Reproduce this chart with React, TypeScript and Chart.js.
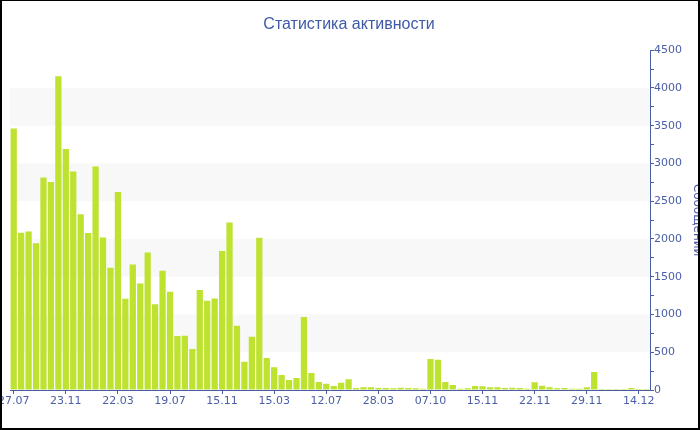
import React, { useEffect, useRef } from 'react';
import { Chart, registerables } from 'chart.js';

Chart.register(...registerables);

// ---- data ----
const tickLabels = ['27.07', '23.11', '22.03', '19.07', '15.11', '15.03', '12.07', '28.03', '07.10', '15.11', '22.11', '29.11', '14.12'];
const labelEvery = 7;
const messages = [
  3463, 2082, 2100, 1945, 2815, 2753, 4156, 3190, 2894, 2329,
  2078, 2960, 2020, 1619, 2621, 1209, 1663, 1412, 1822, 1134,
  1579, 1301, 715, 719, 543, 1324, 1182, 1213, 1840, 2219,
  851, 375, 706, 2016, 424, 300, 199, 132, 159, 966,
  225, 106, 84, 53, 97, 141, 26, 35, 35, 26,
  26, 22, 31, 26, 22, 18, 410, 401, 106, 66,
  18, 22, 53, 49, 35, 35, 26, 31, 26, 18,
  101, 57, 35, 22, 26, 18, 18, 35, 238, 13,
  9, 9, 13, 26, 9, 9,
];
const yMax = 4500;
const yStep = 250;
const yLabelStep = 500;
const bandRanges = [[500, 1000], [1500, 2000], [2500, 3000], [3500, 4000]];

const categories = messages.map((_, i) => (i % labelEvery === 0 ? tickLabels[i / labelEvery] ?? '' : ''));

const textColor = '#4a5ea6';
const axisColor = '#4a5ea6';
const barColor = '#bde22f';

const bandsPlugin = {
  id: 'bands',
  beforeDatasetsDraw(chart: any) {
    const { ctx, chartArea, scales } = chart;
    const y = scales.y;
    ctx.save();
    ctx.fillStyle = '#f8f8f8';
    for (const [a, b] of bandRanges) {
      const y1 = y.getPixelForValue(b);
      const y2 = y.getPixelForValue(a);
      ctx.fillRect(chartArea.left, y1, chartArea.right - chartArea.left, y2 - y1);
    }
    ctx.restore();
  },
};

export default function App() {
  const ref = useRef<HTMLCanvasElement | null>(null);

  useEffect(() => {
    if (!ref.current) return;
    const chart = new Chart(ref.current, {
      type: 'bar',
      data: {
        labels: categories,
        datasets: [
          {
            label: 'Сообщений',
            data: messages,
            backgroundColor: barColor,
            borderWidth: 0,
            minBarLength: 1,
            categoryPercentage: 1,
            barPercentage: 0.84,
          },
        ],
      },
      plugins: [bandsPlugin],
      options: {
        responsive: false,
        animation: false,
        devicePixelRatio: 1,
        layout: { padding: { left: 30, right: 32, top: 0, bottom: 0 } },
        plugins: {
          legend: { display: false },
          tooltip: { enabled: false },
          title: {
            display: true,
            text: 'Статистика активности',
            color: '#3f5aa6',
            font: { family: 'Liberation Sans', size: 16, weight: 'normal' },
            padding: { top: 15, bottom: 16 },
          },
        },
        scales: {
          x: {
            type: 'category',
            offset: true,
            grid: { offset: false, drawOnChartArea: false, drawTicks: true, tickLength: 4, color: axisColor },
            border: { display: true, color: axisColor },
            ticks: {
              autoSkip: false,
              maxRotation: 0,
              minRotation: 0,
              padding: 1,
              color: textColor,
              font: { family: 'DejaVu Sans', size: 11 },
            },
            afterBuildTicks: (s: any) => {
              s.ticks = s.ticks.filter((t: any) => t.value % labelEvery === 0);
            },
            afterFit: (s: any) => {
              s.height = 40;
            },
          },
          y: {
            position: 'right',
            min: 0,
            max: yMax,
            ticks: {
              stepSize: yStep,
              autoSkip: false,
              padding: 0,
              color: textColor,
              font: { family: 'DejaVu Sans', size: 11 },
              callback: (v: any) => (Number(v) % yLabelStep === 0 ? String(v) : ''),
            },
            grid: { drawOnChartArea: false, drawTicks: true, tickLength: 4, color: axisColor },
            border: { display: true, color: axisColor },
            title: {
              display: true,
              text: 'Сообщений',
              color: textColor,
              font: { family: 'DejaVu Sans', size: 12 },
              padding: { top: -16, bottom: 0 },
            },
            afterFit: (s: any) => {
              s.width = 38;
            },
          },
        },
      },
    } as any);
    return () => chart.destroy();
  }, []);

  return (
    <div
      style={{
        position: 'fixed',
        left: 0,
        top: 0,
        width: 700,
        height: 430,
        overflow: 'hidden',
        background: '#fff',
      }}
    >
      <div style={{ position: 'absolute', left: -20, top: 0, width: 740, height: 430 }}>
        <canvas ref={ref} width={740} height={430} style={{ width: 740, height: 430, display: 'block' }} />
      </div>
      <div
        style={{
          position: 'absolute',
          left: 0,
          top: 0,
          width: 700,
          height: 430,
          boxSizing: 'border-box',
          borderTop: '1px solid #000',
          borderLeft: '2px solid #000',
          borderRight: '2px solid #000',
          borderBottom: '2px solid #000',
          pointerEvents: 'none',
        }}
      />
    </div>
  );
}
